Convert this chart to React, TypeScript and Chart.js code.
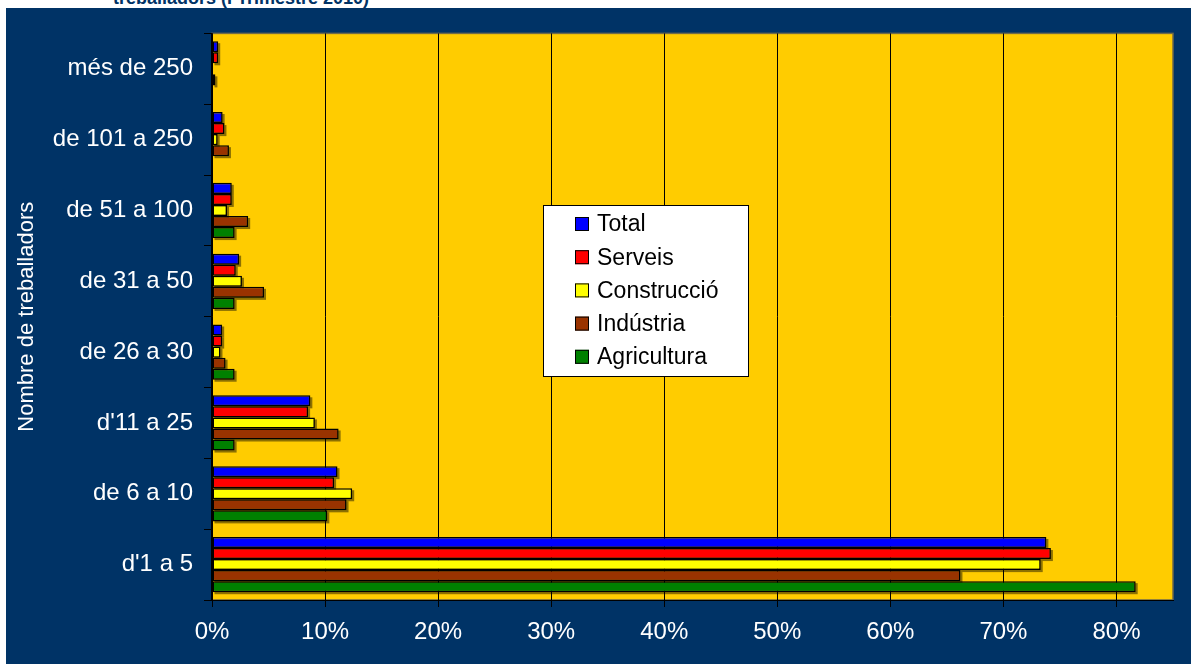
import { useEffect, useRef } from 'react';
import { Chart, registerables } from 'chart.js';

Chart.register(...registerables);

const FONT = '"Liberation Sans", Arial, Helvetica, sans-serif';

const categories = [
  'més de 250',
  'de 101 a 250',
  'de 51 a 100',
  'de 31 a 50',
  'de 26 a 30',
  "d'11 a 25",
  'de 6 a 10',
  "d'1 a 5",
];

const seriesNames = ['Total', 'Serveis', 'Construcció', 'Indústria', 'Agricultura'];
const seriesColors = ['#0000FF', '#FF0000', '#FFFF00', '#993300', '#008000'];

const total = [0.55, 0.94, 1.75, 2.4, 0.9, 8.7, 11.1, 73.8];
const serveis = [0.55, 1.1, 1.75, 2.1, 0.9, 8.5, 10.8, 74.2];
const construccio = [0, 0.5, 1.33, 2.65, 0.75, 9.1, 12.4, 73.3];
const industria = [0.3, 1.5, 3.2, 4.6, 1.2, 11.2, 11.9, 66.2];
const agricultura = [0, 0, 2.0, 2.0, 2.0, 2.0, 10.2, 81.7];

const seriesValues = [total, serveis, construccio, industria, agricultura];

const xMin = 0;
const xMax = 85;
const xStep = 10;

const plotBg = {
  id: 'plotBg',
  beforeDraw(chart: any) {
    const { ctx, chartArea: a } = chart;
    ctx.save();
    ctx.fillStyle = '#FFCC00';
    ctx.fillRect(a.left, a.top, a.right - a.left, a.bottom - a.top);
    ctx.strokeStyle = '#6f6a4a';
    ctx.lineWidth = 1.5;
    ctx.strokeRect(a.left, a.top, a.right - a.left, a.bottom - a.top);
    ctx.restore();
  },
};

const barShadow = {
  id: 'barShadow',
  beforeDatasetsDraw(chart: any) {
    const { ctx } = chart;
    ctx.save();
    ctx.fillStyle = 'rgba(0,0,0,0.45)';
    chart.data.datasets.forEach((_: any, i: number) => {
      const meta = chart.getDatasetMeta(i);
      meta.data.forEach((el: any) => {
        const { x, y, base, height } = el.getProps(['x', 'y', 'base', 'height'], true);
        if (Math.abs(x - base) < 0.5) return;
        const l = Math.min(x, base);
        const w = Math.abs(x - base);
        ctx.fillRect(l + 2, y - height / 2 + 2, w, height);
      });
    });
    ctx.restore();
  },
};

const boxLegend = {
  id: 'boxLegend',
  afterDraw(chart: any) {
    const { ctx } = chart;
    const bx = 537;
    const by = 197;
    const bw = 206;
    const bh = 172;
    ctx.save();
    ctx.fillStyle = '#FFFFFF';
    ctx.fillRect(bx, by, bw, bh);
    ctx.strokeStyle = '#000';
    ctx.lineWidth = 1;
    ctx.strokeRect(bx + 0.5, by + 0.5, bw - 1, bh - 1);
    ctx.font = `23px ${FONT}`;
    ctx.textBaseline = 'middle';
    ctx.textAlign = 'left';
    seriesNames.forEach((name, i) => {
      const cy = by + 19 + i * 33.2;
      ctx.fillStyle = seriesColors[i];
      ctx.fillRect(569, cy - 7, 14, 14);
      ctx.strokeStyle = '#000';
      ctx.strokeRect(569.5, cy - 6.5, 13, 13);
      ctx.fillStyle = '#000';
      ctx.fillText(name, 591, cy + 1);
    });
    ctx.restore();
  },
};

export default function App() {
  const ref = useRef<HTMLCanvasElement>(null);

  useEffect(() => {
    if (!ref.current) return;
    Chart.defaults.font.family = FONT;
    const chart = new Chart(ref.current, {
      type: 'bar',
      data: {
        labels: categories,
        datasets: seriesNames.map((name, i) => ({
          label: name,
          data: seriesValues[i],
          backgroundColor: seriesColors[i],
          borderColor: '#000000',
          borderWidth: 1.5,
          borderSkipped: false,
          categoryPercentage: 0.78,
          barPercentage: 1.0,
        })),
      },
      options: {
        animation: false,
        responsive: false,
        indexAxis: 'y',
        layout: { padding: { left: 0, right: 18, top: 25, bottom: 0 } },
        plugins: {
          legend: { display: false },
          title: { display: false },
          tooltip: { enabled: false },
        },
        scales: {
          x: {
            min: xMin,
            max: xMax,
            afterFit: (s: any) => {
              s.height = 64;
            },
            ticks: {
              stepSize: xStep,
              includeBounds: false,
              callback: (v: any) => `${v}%`,
              color: '#FFFFFF',
              font: { family: FONT, size: 24 },
              padding: 11,
              maxRotation: 0,
              autoSkip: false,
            },
            grid: {
              color: '#000000',
              lineWidth: 1,
              drawOnChartArea: true,
              drawTicks: true,
              tickLength: 7,
              tickColor: '#000000',
            },
            border: { display: true, color: '#000000', width: 1 },
          },
          y: {
            afterFit: (s: any) => {
              s.width = 206;
            },
            ticks: {
              color: '#FFFFFF',
              font: { family: FONT, size: 24 },
              padding: 11,
              autoSkip: false,
            },
            grid: {
              drawOnChartArea: false,
              drawTicks: true,
              tickLength: 8,
              color: '#000000',
              tickColor: '#000000',
            },
            border: { display: true, color: '#000000', width: 1.5 },
            title: {
              display: true,
              text: 'Nombre de treballadors',
              color: '#FFFFFF',
              font: { family: FONT, size: 22 },
              padding: { top: 8, bottom: 0 },
            },
          },
        },
      },
      plugins: [plotBg, barShadow, boxLegend],
    } as any);
    return () => chart.destroy();
  }, []);

  return (
    <div
      style={{
        position: 'fixed',
        left: 0,
        top: 0,
        width: 1195,
        height: 669,
        background: '#FFFFFF',
        overflow: 'hidden',
      }}
    >
      <div
        style={{
          position: 'absolute',
          left: 0,
          top: 0,
          width: 1195,
          height: 8,
          overflow: 'hidden',
        }}
      >
        <div
          style={{
            position: 'absolute',
            left: 113,
            top: -11,
            font: `bold 18px ${FONT}`,
            lineHeight: '18px',
            color: '#003366',
            whiteSpace: 'nowrap',
          }}
        >
          treballadors (I Trimestre 2010)
        </div>
      </div>
      <div
        style={{
          position: 'absolute',
          left: 6,
          top: 8,
          width: 1185,
          height: 656,
          background: '#003366',
        }}
      >
        <canvas ref={ref} width={1185} height={656} style={{ display: 'block' }} />
      </div>
    </div>
  );
}
